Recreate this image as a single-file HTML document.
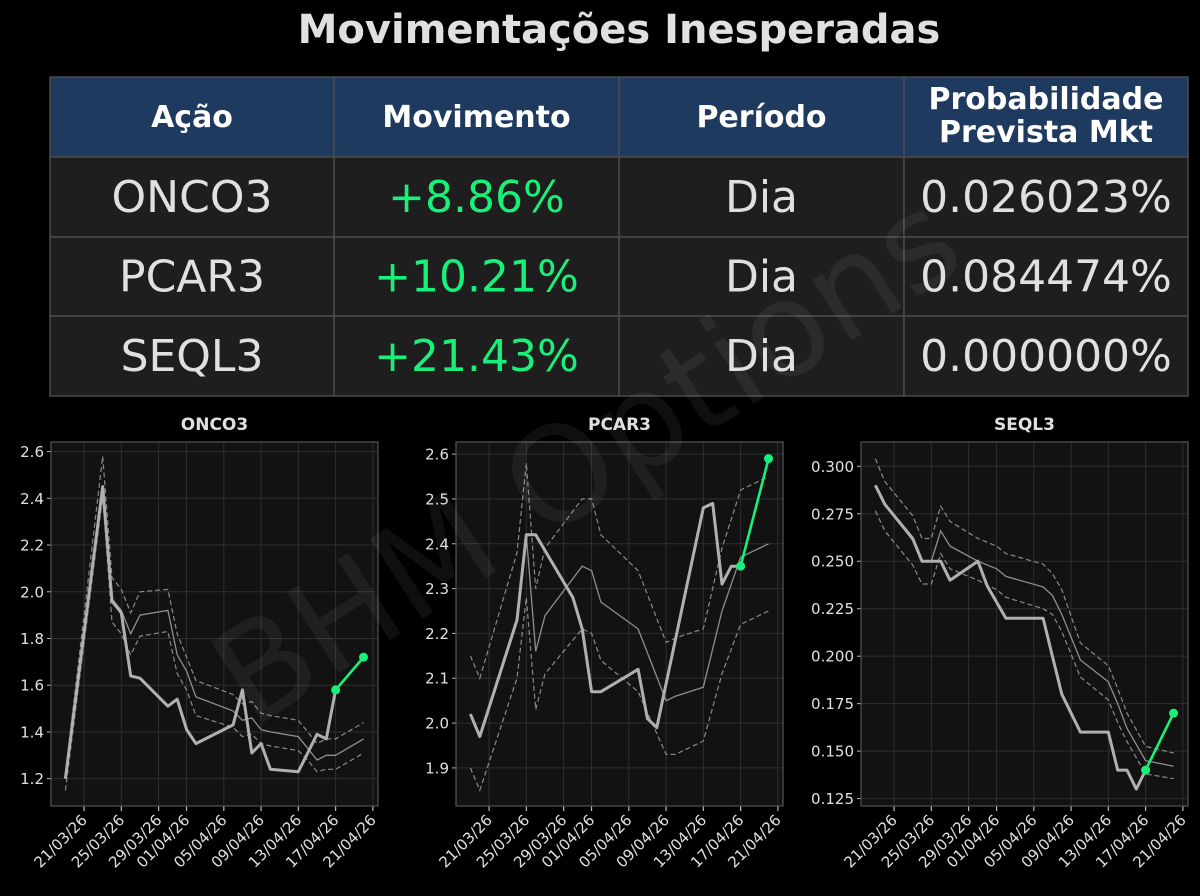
<!DOCTYPE html>
<html><head><meta charset="utf-8"><style>
html,body{margin:0;padding:0;background:#000;}
svg{display:block;font-family:"DejaVu Sans","Liberation Sans",sans-serif;}
</style></head><body>
<svg id="root" width="1200" height="896" viewBox="0 0 1200 896">
<rect x="0" y="0" width="1200" height="896" fill="#000"/>
<text x="619" y="43" text-anchor="middle" font-size="40" font-weight="bold" fill="#e0e0e0">Movimentações Inesperadas</text>
<g id="table"></g>
<g id="charts"></g>
<text x="600" y="500" text-anchor="middle" font-size="132" fill="#ffffff" fill-opacity="0.06" transform="rotate(-33 600 480)" font-family="DejaVu Sans, sans-serif">BHM Options</text>
</svg>
<script>
const NS='http://www.w3.org/2000/svg';
function mk(tag,attrs,parent){const e=document.createElementNS(NS,tag);for(const k in attrs)e.setAttribute(k,attrs[k]);if(parent)parent.appendChild(e);return e;}

// ---------- table ----------
const tableHeaders=['Ação','Movimento','Período','Probabilidade|Prevista Mkt'];
const tableTickers=['ONCO3','PCAR3','SEQL3'];
const tableMoves=['+8.86%','+10.21%','+21.43%'];
const tablePeriods=['Dia','Dia','Dia'];
const tableProbs=['0.026023%','0.084474%','0.000000%'];
const colX=[50,334,619,904,1188];
const rowY=[77,157,237,316,396];
const tg=document.getElementById('table');
for(let c=0;c<4;c++){
  const r=mk('rect',{x:colX[c],y:rowY[0],width:colX[c+1]-colX[c],height:rowY[1]-rowY[0],fill:'#1e3a5f',stroke:'#4a4a4a','stroke-width':1.5},tg);
  
  
  const lines=tableHeaders[c].split('|');
  const cx=(colX[c]+colX[c+1])/2;
  lines.forEach((ln,i)=>{
    const t=mk('text',{x:cx,y:(lines.length===1?127:109+i*33),'text-anchor':'middle','font-size':30,'font-weight':'bold',fill:'#ffffff'},tg);
    t.textContent=ln;
    
    
  });
}
for(let r=0;r<3;r++){
  const vals=[tableTickers[r],tableMoves[r],tablePeriods[r],tableProbs[r]];
  for(let c=0;c<4;c++){
    const rc=mk('rect',{x:colX[c],y:rowY[r+1],width:colX[c+1]-colX[c],height:rowY[r+2]-rowY[r+1],fill:'#1e1e1e',stroke:'#4a4a4a','stroke-width':1.5},tg);
    
    
    const t=mk('text',{x:(colX[c]+colX[c+1])/2,y:(rowY[r+1]+rowY[r+2])/2+15,'text-anchor':'middle','font-size':44,fill:c===1?'#19f07a':'#e0e0e0'},tg);
    t.textContent=vals[c];
    
    
  }
}

// ---------- chart data ----------
const tickDays=[0,4,8,11,15,19,23,27,31];
const tickLabels=['21/03/26','25/03/26','29/03/26','01/04/26','05/04/26','09/04/26','13/04/26','17/04/26','21/04/26'];
const bandDays=[-2,2,3,4,5,6,9,10,11,12,16,17,18,19,20,23,24,25,26,27,30];

const oncoDays=[-2,2,3,4,5,6,9,10,11,12,16,17,18,19,20,23,24,25,26,27];
const oncoPrice=[1.20,2.45,1.96,1.91,1.64,1.63,1.51,1.54,1.41,1.35,1.43,1.58,1.31,1.35,1.24,1.23,1.31,1.39,1.37,1.58];
const oncoMid=[1.21,2.44,1.97,1.92,1.82,1.90,1.92,1.73,1.66,1.55,1.49,1.45,1.46,1.41,1.40,1.38,1.33,1.28,1.30,1.30,1.37];
const oncoUp=[1.22,2.58,2.06,2.01,1.91,2.00,2.01,1.82,1.72,1.62,1.56,1.52,1.53,1.48,1.47,1.45,1.40,1.35,1.37,1.37,1.44];
const oncoLow=[1.15,2.41,1.87,1.82,1.73,1.81,1.83,1.65,1.58,1.47,1.42,1.38,1.39,1.35,1.34,1.32,1.28,1.23,1.24,1.24,1.31];
const oncoMoveDays=[27,30];
const oncoMove=[1.58,1.72];
const oncoTicks=[1.2,1.4,1.6,1.8,2.0,2.2,2.4,2.6];

const pcarDays=[-2,-1,3,4,5,9,10,11,12,16,17,18,23,24,25,26,27];
const pcarPrice=[2.02,1.97,2.23,2.42,2.42,2.28,2.21,2.07,2.07,2.12,2.01,1.99,2.48,2.49,2.31,2.35,2.35];
const pcarBandDays=[-2,-1,3,4,5,6,10,11,12,16,19,20,23,25,27,30];
const pcarMid=[2.02,1.97,2.23,2.42,2.16,2.24,2.35,2.34,2.27,2.21,2.05,2.06,2.08,2.25,2.37,2.40];
const pcarUp=[2.15,2.10,2.38,2.58,2.30,2.39,2.50,2.50,2.42,2.34,2.18,2.19,2.21,2.39,2.52,2.55];
const pcarLow=[1.90,1.85,2.10,2.28,2.03,2.11,2.21,2.20,2.14,2.07,1.93,1.93,1.96,2.11,2.22,2.25];
const pcarMoveDays=[27,30];
const pcarMove=[2.35,2.59];
const pcarTicks=[1.9,2.0,2.1,2.2,2.3,2.4,2.5,2.6];

const seqlDays=[-2,-1,2,3,4,5,6,9,10,12,16,17,18,20,23,24,25,26,27];
const seqlPrice=[0.290,0.280,0.262,0.250,0.250,0.250,0.240,0.250,0.237,0.220,0.220,0.200,0.180,0.160,0.160,0.140,0.140,0.130,0.140];
const seqlBandDays=[-2,-1,2,3,4,5,6,9,11,12,16,17,18,20,23,24,25,27,30];
const seqlMid=[0.290,0.280,0.261,0.250,0.250,0.266,0.258,0.250,0.246,0.242,0.2365,0.232,0.222,0.198,0.1865,0.175,0.162,0.145,0.142];
const seqlUp=[0.304,0.292,0.274,0.262,0.262,0.279,0.271,0.262,0.258,0.254,0.2485,0.2435,0.235,0.207,0.195,0.183,0.170,0.1525,0.149];
const seqlLow=[0.2765,0.266,0.248,0.238,0.238,0.254,0.246,0.240,0.235,0.231,0.225,0.222,0.213,0.189,0.177,0.165,0.155,0.138,0.1355];
const seqlMoveDays=[27,30];
const seqlMove=[0.140,0.170];
const seqlTicks=[0.125,0.150,0.175,0.200,0.225,0.250,0.275,0.300];

const charts=[
 {name:'onco3',title:'ONCO3',L:51,R:378,ymin:1.083,ymax:2.641,ticks:oncoTicks,dec:1,
  pd:oncoDays,price:oncoPrice,bd:bandDays,mid:oncoMid,up:oncoUp,low:oncoLow,md:oncoMoveDays,mv:oncoMove},
 {name:'pcar3',title:'PCAR3',L:456,R:783,ymin:1.815,ymax:2.627,ticks:pcarTicks,dec:1,
  pd:pcarDays,price:pcarPrice,bd:pcarBandDays,mid:pcarMid,up:pcarUp,low:pcarLow,md:pcarMoveDays,mv:pcarMove},
 {name:'seql3',title:'SEQL3',L:861,R:1188,ymin:0.1211,ymax:0.3128,ticks:seqlTicks,dec:3,
  pd:seqlDays,price:seqlPrice,bd:seqlBandDays,mid:seqlMid,up:seqlUp,low:seqlLow,md:seqlMoveDays,mv:seqlMove}
];
const T=442,B=806,D0=-3.55,D1=31.55;
const root=document.getElementById('charts');
charts.forEach(c=>{
  const g=mk('g',{},root);
  
  
  const xs=d=>c.L+(d-D0)/(D1-D0)*(c.R-c.L);
  const ys=v=>B-(v-c.ymin)/(c.ymax-c.ymin)*(B-T);
  const bg=mk('rect',{x:c.L,y:T,width:c.R-c.L,height:B-T,fill:'#121212'},g);
  
  
  const tt=mk('text',{x:(c.L+c.R)/2,y:430,'text-anchor':'middle','font-size':17,'font-weight':'bold',fill:'#e0e0e0'},g);
  tt.textContent=c.title;
  
  
  c.ticks.forEach(v=>{
    const y=ys(v);
    mk('line',{x1:c.L,x2:c.R,y1:y,y2:y,stroke:'#2e2e2e','stroke-width':1},g);
    mk('line',{x1:c.L-4,x2:c.L,y1:y,y2:y,stroke:'#bbb','stroke-width':1},g);
    const t=mk('text',{x:c.L-7,y:y+5.5,'text-anchor':'end','font-size':15,fill:'#e0e0e0'},g);
    t.textContent=v.toFixed(c.dec);
    
    
  });
  tickDays.forEach((d,i)=>{
    const x=xs(d);
    mk('line',{x1:x,x2:x,y1:T,y2:B,stroke:'#2e2e2e','stroke-width':1},g);
    mk('line',{x1:x,x2:x,y1:B,y2:B+5,stroke:'#bbb','stroke-width':1.2},g);
    const t=mk('text',{x:x+4,y:B+15,'text-anchor':'end','font-size':15,fill:'#e0e0e0',transform:`rotate(-45 ${x+4} ${B+15})`},g);
    t.textContent=tickLabels[i];
    
    
  });
  const frame=mk('rect',{x:c.L,y:T,width:c.R-c.L,height:B-T,fill:'none',stroke:'#555','stroke-width':1.2},g);
  
  
  const pts=(ds,vs)=>ds.map((d,i)=>xs(d).toFixed(1)+','+ys(vs[i]).toFixed(1)).join(' ');
  const up=mk('polyline',{points:pts(c.bd,c.up),fill:'none',stroke:'#8a8a8a','stroke-width':1.2,'stroke-dasharray':'5,3'},g);
  
  
  const lo=mk('polyline',{points:pts(c.bd,c.low),fill:'none',stroke:'#8a8a8a','stroke-width':1.2,'stroke-dasharray':'5,3'},g);
  
  
  const mi=mk('polyline',{points:pts(c.bd,c.mid),fill:'none',stroke:'#8f8f8f','stroke-width':1.3},g);
  
  
  const pr=mk('polyline',{points:pts(c.pd,c.price),fill:'none',stroke:'#b0b0b0','stroke-width':3,'stroke-linejoin':'round'},g);
  
  
  const mv=mk('polyline',{points:pts(c.md,c.mv),fill:'none',stroke:'#19f07a','stroke-width':2.6},g);
  
  
  c.md.forEach((d,i)=>{
    const p=mk('circle',{cx:xs(d),cy:ys(c.mv[i]),r:4.5,fill:'#19f07a'},g);
    
    
  });
});
</script>
</body></html>
